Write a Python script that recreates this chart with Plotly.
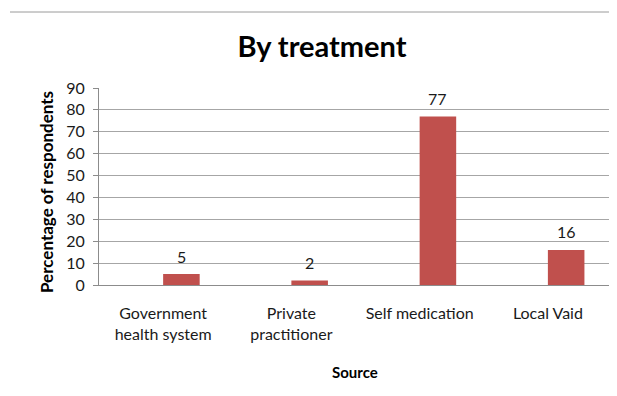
import plotly.graph_objects as go

categories = ["Government<br>health system", "Private<br>practitioner", "Self medication", "Local Vaid"]
values = [5, 2, 77, 16]
y_ticks = [0, 10, 20, 30, 40, 50, 60, 70, 80, 90]

FONT = "Lato"
BAR_W = 0.285
# page is offset 8px by body margin; figure coordinates below are page - 8
L, R, T, B = 91, 5, 80, 111
W, H = 609, 388
PW, PH = W - L - R, H - T - B

fig = go.Figure()
fig.add_trace(go.Bar(
    x=categories, y=values,
    marker=dict(color="#C0504D", line=dict(width=0)),
    width=BAR_W, offset=0,
    hoverinfo="x+y",
))

annotations = [
    dict(x=i + BAR_W / 2, y=v, xref="x", yref="y", text=str(v), showarrow=False,
         yshift=18, xanchor="center", yanchor="middle",
         font=dict(family=FONT, size=16, color="#1a1a1a"))
    for i, v in enumerate(values)
]
annotations += [
    dict(text="<b>Percentage of respondents</b>", xref="paper", yref="paper",
         x=(38 - L) / PW, y=(H - B - 184) / PH, textangle=-90, showarrow=False,
         xanchor="center", yanchor="middle", font=dict(family=FONT, size=17, color="#000000")),
    dict(text="<b>Source</b>", xref="paper", yref="paper",
         x=(347 - L) / PW, y=(H - B - 364) / PH, showarrow=False,
         xanchor="center", yanchor="middle", font=dict(family=FONT, size=15, color="#000000")),
]

fig.update_layout(
    width=W, height=H,
    margin=dict(l=L, r=R, t=T, b=B),
    paper_bgcolor="white", plot_bgcolor="white",
    showlegend=False,
    font=dict(family=FONT, size=16, color="#1a1a1a"),
    title=dict(text="<b>By treatment</b>", x=314 / W, xanchor="center",
               y=1 - 39 / H, yanchor="middle", xref="container", yref="container",
               font=dict(family=FONT, size=29, color="#000000")),
    xaxis=dict(showgrid=False, showline=True, linecolor="#8c8c8c", linewidth=1,
               ticks="", ticklabelstandoff=14,
               tickfont=dict(family=FONT, size=16, color="#1a1a1a")),
    yaxis=dict(range=[0, 90], tickvals=y_ticks, showgrid=True, gridcolor="#a6a6a6",
               gridwidth=1, showline=True, linecolor="#8c8c8c", linewidth=1,
               ticks="outside", ticklen=5, tickcolor="#8c8c8c", zeroline=False,
               ticklabelstandoff=5,
               tickfont=dict(family=FONT, size=16, color="#1a1a1a")),
    shapes=[dict(type="line", xref="paper", yref="paper",
                 x0=(2 - L) / PW, x1=(W - L) / PW,
                 y0=(H - 4 - B) / PH, y1=(H - 4 - B) / PH,
                 line=dict(color="#9a9a9a", width=1))],
    annotations=annotations,
)

fig.write_html("out.html")
